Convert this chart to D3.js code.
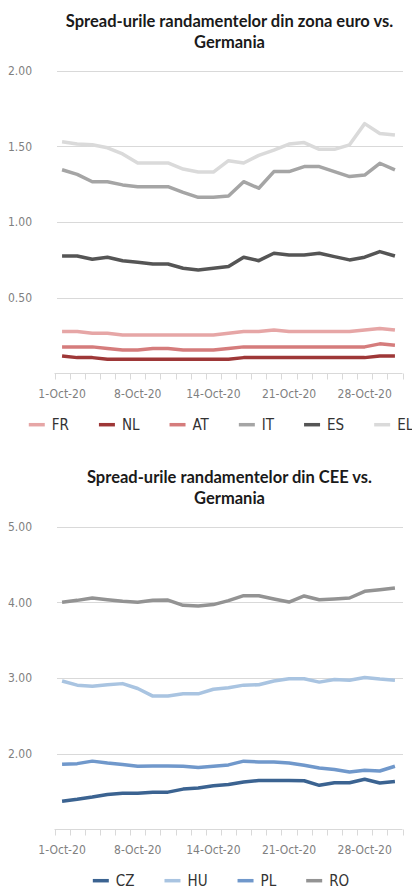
<!DOCTYPE html>
<html>
<head>
<meta charset="utf-8">
<script src="https://cdn.jsdelivr.net/npm/d3@7"></script>
<style>
body{margin:0;background:#fff}
svg{display:block}
.title{font-family:Lato,"Open Sans",sans-serif;font-weight:700;font-size:16.5px;fill:#1a1a1a}
.ax text{font-family:"Liberation Sans Narrow","DejaVu Sans Condensed",sans-serif;font-size:12px;fill:#7f7f7f}
.leg text{font-family:"Liberation Sans Narrow","DejaVu Sans Condensed",sans-serif;font-size:15px;fill:#333}
</style>
</head>
<body>
<svg id="chart" width="412" height="889"></svg>
<script>
// trading days, Oct 2020
var dates=["1-Oct-20","2-Oct-20","5-Oct-20","6-Oct-20","7-Oct-20","8-Oct-20","9-Oct-20","11-Oct-20","12-Oct-20","13-Oct-20","14-Oct-20","15-Oct-20","16-Oct-20","19-Oct-20","20-Oct-20","21-Oct-20","22-Oct-20","23-Oct-20","26-Oct-20","27-Oct-20","28-Oct-20","29-Oct-20","30-Oct-20"]
var tickLabels=["1-Oct-20","8-Oct-20","14-Oct-20","21-Oct-20","28-Oct-20"]

// zona euro vs Germania
var FR=[0.275,0.275,0.264,0.264,0.253,0.253,0.253,0.253,0.253,0.253,0.253,0.264,0.275,0.275,0.286,0.275,0.275,0.275,0.275,0.275,0.286,0.295,0.285]
var NL=[0.114,0.103,0.103,0.092,0.092,0.092,0.092,0.092,0.092,0.092,0.092,0.092,0.103,0.103,0.103,0.103,0.103,0.103,0.103,0.103,0.103,0.114,0.114]
var AT=[0.174,0.174,0.174,0.163,0.154,0.154,0.163,0.163,0.154,0.154,0.154,0.163,0.174,0.174,0.174,0.174,0.174,0.174,0.174,0.174,0.174,0.194,0.185]
var IT=[1.345,1.315,1.266,1.266,1.245,1.233,1.233,1.233,1.196,1.163,1.163,1.172,1.266,1.223,1.333,1.333,1.366,1.366,1.333,1.30,1.31,1.388,1.345]
var ES=[0.775,0.775,0.753,0.767,0.744,0.734,0.722,0.722,0.694,0.683,0.694,0.705,0.767,0.744,0.793,0.782,0.782,0.793,0.771,0.749,0.767,0.804,0.775]
var EL=[1.53,1.515,1.51,1.49,1.45,1.39,1.39,1.39,1.35,1.33,1.33,1.405,1.39,1.44,1.475,1.515,1.525,1.48,1.48,1.51,1.65,1.585,1.575]

// CEE vs Germania
var CZ=[1.37,1.395,1.425,1.46,1.475,1.475,1.49,1.49,1.53,1.545,1.575,1.59,1.625,1.645,1.645,1.645,1.64,1.58,1.615,1.615,1.66,1.61,1.63]
var HU=[2.96,2.905,2.89,2.91,2.925,2.86,2.76,2.76,2.79,2.79,2.85,2.87,2.905,2.91,2.96,2.99,2.99,2.945,2.98,2.97,3.006,2.985,2.97]
var PL=[1.86,1.867,1.90,1.875,1.855,1.832,1.836,1.836,1.832,1.815,1.832,1.85,1.90,1.89,1.89,1.875,1.846,1.81,1.79,1.756,1.78,1.77,1.832]
var RO=[4.00,4.026,4.057,4.035,4.013,4.00,4.026,4.03,3.96,3.95,3.97,4.022,4.088,4.088,4.044,4.004,4.084,4.035,4.044,4.057,4.145,4.167,4.19]

var euroTicks=[0.5,1,1.5,2]
var ceeTicks=[2,3,4,5]

var svg=d3.select("#chart")

draw(svg.append('g'),{
    title:["Spread-urile randamentelor din zona euro vs.","Germania"],
    domain:[0,2],ticks:euroTicks,
    series:[
        {name:"FR",values:FR,color:"#e6a6a6"},
        {name:"NL",values:NL,color:"#9e3737"},
        {name:"AT",values:AT,color:"#d57c7c"},
        {name:"IT",values:IT,color:"#a5a5a5"},
        {name:"ES",values:ES,color:"#555555"},
        {name:"EL",values:EL,color:"#dadada"}
    ]
})
draw(svg.append('g').attr('transform','translate(0,456)'),{
    title:["Spread-urile randamentelor din CEE vs.","Germania"],
    domain:[1,5],ticks:ceeTicks,
    series:[
        {name:"CZ",values:CZ,color:"#3b6391"},
        {name:"HU",values:HU,color:"#a9c4e1"},
        {name:"PL",values:PL,color:"#7098cb"},
        {name:"RO",values:RO,color:"#939393"}
    ]
})

function draw(g,opt)
{
    let margin={left:54.5,right:9.5,top:70.7,plotH:302.5}
    let x=d3.scaleBand().domain(dates).range([margin.left,412-margin.right])
    let y=d3.scaleLinear().domain(opt.domain).range([margin.top+margin.plotH,margin.top])

    g.append('text').attr('class','title')
        .attr('text-anchor','middle')
        .selectAll('tspan')
        .data(opt.title)
        .join('tspan')
        .attr('x',229.5)
        .attr('y',(d,i)=>26.5+i*21)
        .text(d=>d)

    // grid + y labels
    let ya=g.append('g').attr('class','ax')
    ya.selectAll('line')
        .data(opt.ticks)
        .join('line')
        .attr('x1',57).attr('x2',403)
        .attr('y1',d=>Math.round(y(d))+0.5).attr('y2',d=>Math.round(y(d))+0.5)
        .attr('stroke','#d9d9d9')
    ya.selectAll('text')
        .data(opt.ticks)
        .join('text')
        .attr('x',32).attr('y',d=>y(d))
        .attr('dy','0.35em')
        .attr('text-anchor','end')
        .text(d3.format('.2f'))

    // x axis (category style: ticks between bands)
    let base=Math.round(y(opt.domain[0]))+0.5
    let xa=g.append('g').attr('class','ax')
    xa.append('line')
        .attr('x1',x.range()[0]).attr('x2',x.range()[1])
        .attr('y1',base).attr('y2',base)
        .attr('stroke','#d9d9d9')
    let edges=dates.map(d=>x(d)).concat([x.range()[1]])
    xa.selectAll('line.tk')
        .data(edges)
        .join('line')
        .attr('class','tk')
        .attr('x1',d=>Math.round(d)+0.5).attr('x2',d=>Math.round(d)+0.5)
        .attr('y1',base).attr('y2',base+6)
        .attr('stroke','#d9d9d9')
    xa.selectAll('text')
        .data(tickLabels)
        .join('text')
        .attr('x',d=>x(d)+x.bandwidth()/2)
        .attr('y',base+24)
        .attr('text-anchor','middle')
        .text(d=>d)

    // lines
    let lineGen=d3.line().x((d,i)=>x(dates[i])+x.bandwidth()/2).y(d=>y(d))
    g.append('g')
        .selectAll('path')
        .data(opt.series)
        .join('path')
        .attr('d',d=>lineGen(d.values))
        .attr('fill','none')
        .attr('stroke',d=>d.color)
        .attr('stroke-width',3.5)
        .attr('stroke-linejoin','round')

    // legend, centred under the plot
    let leg=g.append('g').attr('class','leg')
    let ly=margin.top+margin.plotH+57
    let items=leg.selectAll('g')
        .data(opt.series)
        .join('g')
    items.append('line')
        .attr('x1',0).attr('x2',16)
        .attr('y1',ly-5.5).attr('y2',ly-5.5)
        .attr('stroke',d=>d.color)
        .attr('stroke-width',3.5)
    items.append('text')
        .attr('x',23).attr('y',ly)
        .text(d=>d.name)
    let pad=30,pos=0,xs=[]
    items.each(function(d){
        xs.push(pos)
        pos+=23+this.querySelector('text').getComputedTextLength()+pad
    })
    let start=221-(pos-pad)/2
    items.attr('transform',(d,i)=>`translate(${start+xs[i]},0)`)
}
</script>
</body>
</html>
